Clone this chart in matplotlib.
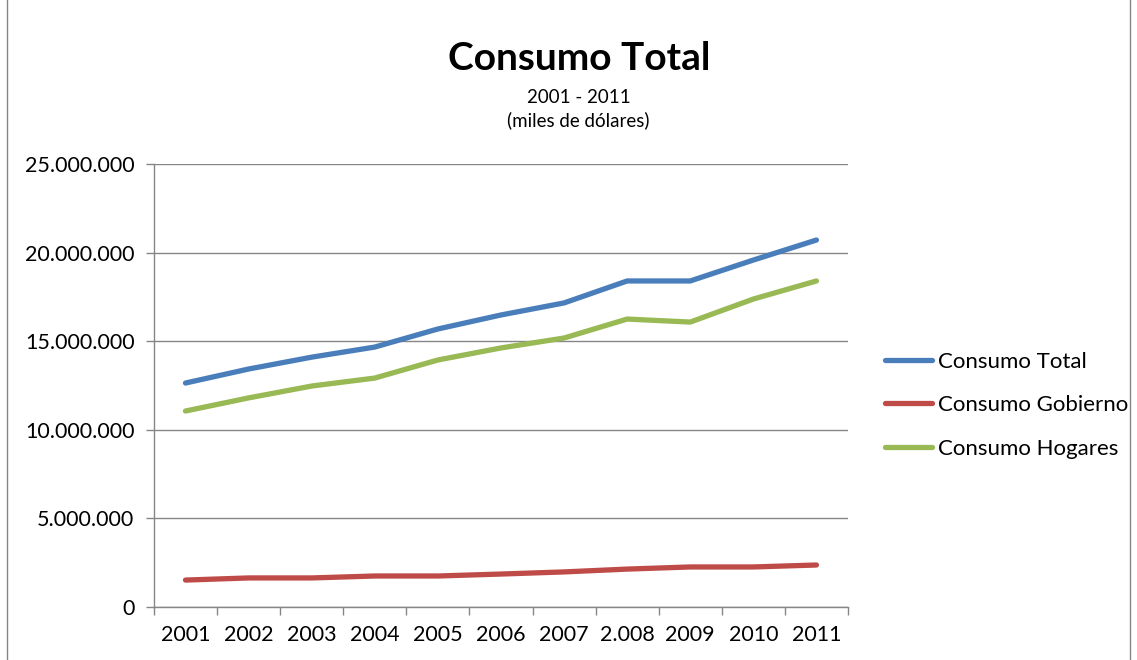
import matplotlib.pyplot as plt
import numpy as np
from matplotlib.ticker import FuncFormatter, FixedLocator

plt.rcParams['font.family'] = ['Lato', 'DejaVu Sans']

years = ['2001', '2002', '2003', '2004', '2005', '2006', '2007', '2.008', '2009', '2010', '2011']
consumo_total = [12640000, 13430000, 14100000, 14670000, 15690000, 16480000,
                 17160000, 18400000, 18400000, 19580000, 20710000]
consumo_gobierno = [1520000, 1640000, 1640000, 1750000, 1750000, 1860000,
                    1980000, 2140000, 2260000, 2260000, 2370000]
consumo_hogares = [11060000, 11800000, 12470000, 12920000, 13940000, 14620000,
                   15180000, 16250000, 16080000, 17380000, 18400000]

fig = plt.figure(figsize=(11.37, 6.6), dpi=100)
ax = fig.add_axes([0.1354, 0.0803, 0.6104, 0.6712])

x = np.arange(len(years))
ax.plot(x, consumo_total, color='#4A7EBB', lw=3.8, label='Consumo Total', solid_capstyle='round')
ax.plot(x, consumo_gobierno, color='#BE4B48', lw=3.8, label='Consumo Gobierno', solid_capstyle='round')
ax.plot(x, consumo_hogares, color='#98B954', lw=3.8, label='Consumo Hogares', solid_capstyle='round')

ax.set_xlim(-0.5, len(years) - 0.5)
ax.set_ylim(0, 25000000)
ax.set_yticks(np.arange(0, 25000001, 5000000))
ax.yaxis.set_major_formatter(FuncFormatter(lambda v, p: '0' if v == 0 else f'{int(v):,}'.replace(',', '.')))
ax.set_xticks(x)
ax.set_xticklabels(years)
ax.xaxis.set_minor_locator(FixedLocator(np.arange(-0.5, len(years), 1)))
ax.tick_params(axis='x', which='major', length=0, pad=13, labelsize=15.5)
ax.tick_params(axis='x', which='minor', length=6, color='#868686', width=1)
ax.tick_params(axis='y', length=6, color='#868686', width=1, labelsize=15.5, pad=8)

ax.grid(axis='y', color='#868686', lw=1)
ax.set_axisbelow(True)
for s in ['top', 'right']:
    ax.spines[s].set_visible(False)
for s in ['left', 'bottom']:
    ax.spines[s].set_color('#868686')
    ax.spines[s].set_linewidth(1)

fig.text(0.509, 0.912, 'Consumo Total', ha='center', va='center', fontsize=28, fontweight='bold')
fig.text(0.509, 0.853, '2001 - 2011', ha='center', va='center', fontsize=13.5)
fig.text(0.509, 0.818, '(miles de dólares)', ha='center', va='center', fontsize=13.5)

fig.legend(loc='center left', bbox_to_anchor=(0.761, 0.386), frameon=False, fontsize=16,
           handlelength=2.1, handletextpad=0.27, labelspacing=1.05)

# marco exterior del gráfico
fig.patches.append(plt.Rectangle((0.006, -0.01), 0.988, 1.02, transform=fig.transFigure,
                                 fill=False, edgecolor='#868686', lw=1))

fig.savefig('out.png', dpi=100)
